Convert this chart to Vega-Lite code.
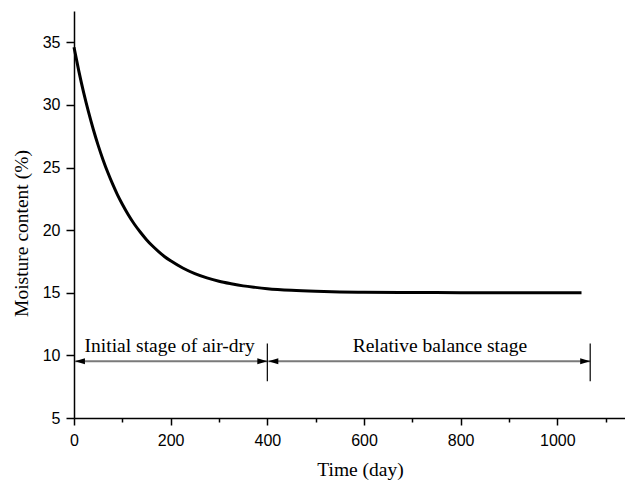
{
  "$schema": "https://vega.github.io/schema/vega-lite/v6.json",
  "autosize": "none",
  "width": 551,
  "height": 407,
  "padding": {"left": 74, "top": 11, "right": 0, "bottom": 66},
  "background": "white",
  "config": {"view": {"stroke": null}, "axis": {"grid": false}},
  "datasets": {
    "curve": [
      {"t": 0, "v": 34.6}, {"t": 10, "v": 32.7}, {"t": 20, "v": 30.98}, {"t": 30, "v": 29.44}, {"t": 40, "v": 28.04},
      {"t": 50, "v": 26.77}, {"t": 60, "v": 25.63}, {"t": 70, "v": 24.6}, {"t": 80, "v": 23.67}, {"t": 90, "v": 22.82},
      {"t": 100, "v": 22.07}, {"t": 112, "v": 21.25}, {"t": 125, "v": 20.47}, {"t": 137, "v": 19.85}, {"t": 150, "v": 19.24},
      {"t": 162, "v": 18.75}, {"t": 175, "v": 18.29}, {"t": 187, "v": 17.9}, {"t": 200, "v": 17.55}, {"t": 225, "v": 16.98},
      {"t": 250, "v": 16.53}, {"t": 275, "v": 16.19}, {"t": 300, "v": 15.92}, {"t": 325, "v": 15.72}, {"t": 350, "v": 15.55},
      {"t": 375, "v": 15.43}, {"t": 400, "v": 15.33}, {"t": 450, "v": 15.2}, {"t": 500, "v": 15.12}, {"t": 550, "v": 15.07},
      {"t": 600, "v": 15.04}, {"t": 700, "v": 15.02}, {"t": 800, "v": 15.01}, {"t": 900, "v": 15.0}, {"t": 1050, "v": 15.0}
    ],
    "arrows": [
      {"x1": 2, "x2": 400, "y": 9.53},
      {"x1": 402, "x2": 1068, "y": 9.53}
    ],
    "bars": [
      {"x": 400, "y1": 7.93, "y2": 10.94},
      {"x": 1068, "y1": 7.93, "y2": 10.94}
    ],
    "heads": [
      {"x": 2, "y": 9.53, "dir": "left"},
      {"x": 400, "y": 9.53, "dir": "right"},
      {"x": 402, "y": 9.53, "dir": "left"},
      {"x": 1068, "y": 9.53, "dir": "right"}
    ],
    "labels": [
      {"x": 198, "y": 10.25, "label": "Initial stage of air-dry"},
      {"x": 757, "y": 10.25, "label": "Relative balance stage"}
    ]
  },
  "layer": [
    {
      "data": {"name": "curve"},
      "mark": {"type": "line", "color": "black", "strokeWidth": 3, "interpolate": "monotone"},
      "encoding": {
        "x": {
          "field": "t", "type": "quantitative",
          "scale": {"domain": [0, 1140], "nice": false, "zero": false},
          "axis": {
            "title": "Time (day)",
            "values": [0, 100, 200, 300, 400, 500, 600, 700, 800, 900, 1000, 1100],
            "labelExpr": "datum.value % 200 === 0 ? datum.label : ''",
            "format": "d",
            "domainColor": "black", "domainWidth": 1.5,
            "tickColor": "black", "tickWidth": 1.5,
            "tickSize": {"condition": {"test": "datum.value % 200 === 0", "value": 7}, "value": 4},
            "labelFont": "Liberation Sans", "labelFontSize": 16, "labelColor": "black",
            "labelPadding": 7, "labelFlush": false,
            "titleFont": "Liberation Serif", "titleFontSize": 19.5, "titleFontWeight": "normal",
            "titleColor": "black", "titleX": 286, "titleY": 57, "titleBaseline": "alphabetic", "titleAlign": "center"
          }
        },
        "y": {
          "field": "v", "type": "quantitative",
          "scale": {"domain": [5, 37.5], "nice": false, "zero": false},
          "axis": {
            "title": "Moisture content (%)",
            "values": [5, 7.5, 10, 12.5, 15, 17.5, 20, 22.5, 25, 27.5, 30, 32.5, 35, 37.5],
            "labelExpr": "datum.value % 5 === 0 ? datum.label : ''",
            "domainColor": "black", "domainWidth": 1.5,
            "tickColor": "black", "tickWidth": 1.5,
            "tickSize": {"condition": {"test": "datum.value % 5 === 0", "value": 8}, "value": 4},
            "labelFont": "Liberation Sans", "labelFontSize": 16, "labelColor": "black",
            "labelPadding": 6, "labelFlush": false,
            "titleFont": "Liberation Serif", "titleFontSize": 19.5, "titleFontWeight": "normal",
            "titleColor": "black", "titleX": -47, "titleY": 222, "titleBaseline": "alphabetic", "titleAlign": "center", "titleAngle": -90
          }
        }
      }
    },
    {
      "data": {"name": "arrows"},
      "mark": {"type": "rule", "color": "#7a7a7a", "strokeWidth": 2},
      "encoding": {
        "x": {"field": "x1", "type": "quantitative"},
        "x2": {"field": "x2"},
        "y": {"field": "y", "type": "quantitative"}
      }
    },
    {
      "data": {"name": "bars"},
      "mark": {"type": "rule", "color": "black", "strokeWidth": 1.2},
      "encoding": {
        "x": {"field": "x", "type": "quantitative"},
        "y": {"field": "y1", "type": "quantitative"},
        "y2": {"field": "y2"}
      }
    },
    {
      "data": {"name": "heads"},
      "mark": {"type": "point", "filled": true, "color": "black", "opacity": 1, "size": 100, "strokeWidth": 0},
      "encoding": {
        "x": {"field": "x", "type": "quantitative"},
        "y": {"field": "y", "type": "quantitative"},
        "shape": {
          "field": "dir", "type": "nominal",
          "scale": {"domain": ["left", "right"], "range": ["M 0 0 L 2 -0.6 L 2 0.6 Z", "M 0 0 L -2 -0.6 L -2 0.6 Z"]},
          "legend": null
        }
      }
    },
    {
      "data": {"name": "labels"},
      "mark": {"type": "text", "font": "Liberation Serif", "fontSize": 19.5, "color": "black", "align": "center", "baseline": "alphabetic"},
      "encoding": {
        "x": {"field": "x", "type": "quantitative"},
        "y": {"field": "y", "type": "quantitative"},
        "text": {"field": "label"}
      }
    }
  ]
}
